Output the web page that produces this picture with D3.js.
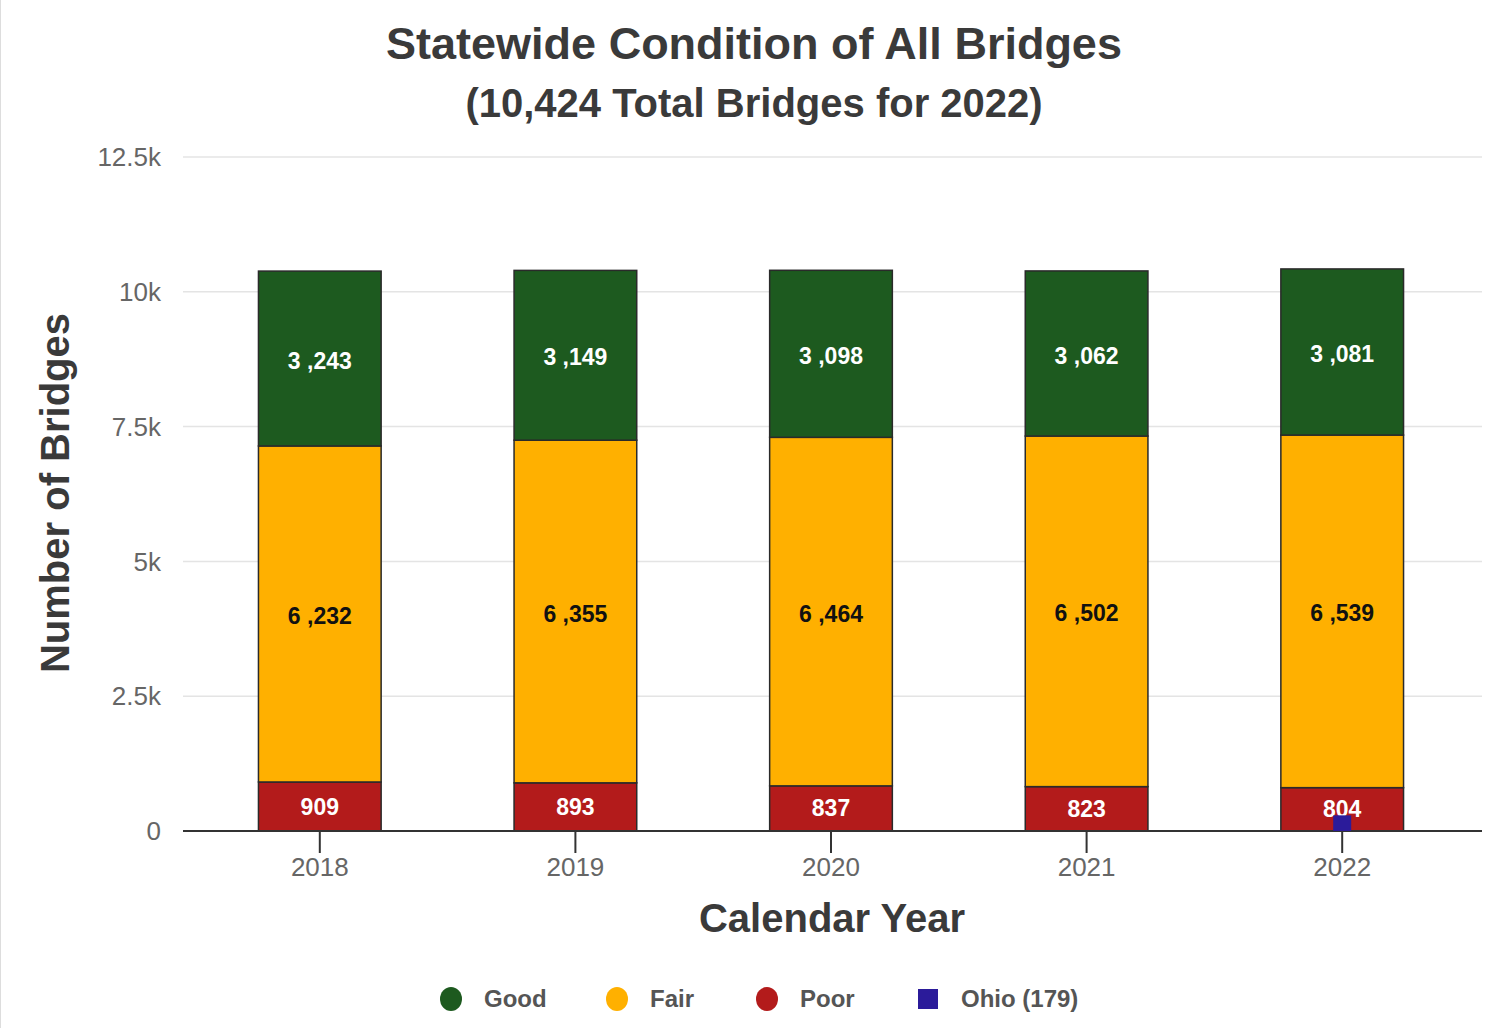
<!DOCTYPE html>
<html><head><meta charset="utf-8">
<script src="https://cdn.jsdelivr.net/npm/d3@7"></script>
<style>
body{margin:0;background:#fff;}
svg{display:block;font-family:"Liberation Sans",Arial,sans-serif;}
</style></head>
<body>
<svg id="c" width="1509" height="1028"></svg>
<script>
const years = ["2018","2019","2020","2021","2022"];
const poor = [909, 893, 837, 823, 804];
const fair = [6232, 6355, 6464, 6502, 6539];
const good = [3243, 3149, 3098, 3062, 3081];
const goodLabels = ["3 ,243","3 ,149","3 ,098","3 ,062","3 ,081"];
const fairLabels = ["6 ,232","6 ,355","6 ,464","6 ,502","6 ,539"];
const poorLabels = ["909","893","837","823","804"];
const ohioYear = "2022";
const ohioValue = 179;
const yTicks = [0, 2500, 5000, 7500, 10000, 12500];
const yTickLabels = ["0","2.5k","5k","7.5k","10k","12.5k"];
const seriesNames = ["Good","Fair","Poor","Ohio (179)"];
const colors = {Good:"#1d5a1f", Fair:"#ffb000", Poor:"#b31b1b", Ohio:"#2b1b9a"};

const svg = d3.select("#c");
svg.append("rect").attr("x",0).attr("y",0).attr("width",1).attr("height",1028).attr("fill","#ddd");

const x = d3.scaleBand().domain(years).range([192,1470]).paddingInner(0.52).paddingOuter(0.26);
const y = d3.scaleLinear().domain([0,12500]).range([831,157]);
const plotL = 183, plotR = 1482;

// gridlines
svg.append("g").selectAll("line").data(yTicks.filter(d=>d>0)).join("line")
  .attr("x1",plotL).attr("x2",plotR).attr("y1",d=>y(d)).attr("y2",d=>y(d))
  .attr("stroke","#e4e4e4").attr("stroke-width",1.5);

// y labels
svg.append("g").selectAll("text").data(yTicks).join("text")
  .attr("x",161).attr("y",d=>y(d)).attr("dy","0.35em").attr("text-anchor","end")
  .attr("font-size",26).attr("fill","#666").text((d,i)=>yTickLabels[i]);

// stacked data
const rows = years.map((yr,i)=>({year:yr, Poor:poor[i], Fair:fair[i], Good:good[i]}));
const stack = d3.stack().keys(["Poor","Fair","Good"])(rows);
const labelsByKey = {Poor:poorLabels, Fair:fairLabels, Good:goodLabels};
const labelColor = {Poor:"#fff", Fair:"#111", Good:"#fff"};

stack.forEach(layer=>{
  const g = svg.append("g");
  g.selectAll("rect").data(layer).join("rect")
    .attr("x",d=>x(d.data.year)).attr("width",x.bandwidth())
    .attr("y",d=>y(d[1])).attr("height",d=>y(d[0])-y(d[1]))
    .attr("fill",colors[layer.key]).attr("stroke","#2a2a2a").attr("stroke-width",1.5);
});
stack.forEach(layer=>{
  svg.append("g").selectAll("text").data(layer).join("text")
    .attr("x",d=>x(d.data.year)+x.bandwidth()/2)
    .attr("y",d=>(y(d[0])+y(d[1]))/2 + (layer.key==="Poor"? 0 : 2))
    .attr("dy","0.35em").attr("text-anchor","middle")
    .attr("font-size",23).attr("font-weight","bold")
    .attr("fill",labelColor[layer.key])
    .text((d,i)=>labelsByKey[layer.key][i]);
});

// axis line and ticks
svg.append("line").attr("x1",plotL).attr("x2",plotR).attr("y1",y(0)).attr("y2",y(0))
  .attr("stroke","#333").attr("stroke-width",2);
svg.append("g").selectAll("line").data(years).join("line")
  .attr("x1",d=>x(d)+x.bandwidth()/2).attr("x2",d=>x(d)+x.bandwidth()/2)
  .attr("y1",y(0)).attr("y2",y(0)+22).attr("stroke","#333").attr("stroke-width",2);

// Ohio marker
const ohioX = x(ohioYear)+x.bandwidth()/2;
svg.append("rect").attr("x",ohioX-9).attr("y",y(ohioValue)-6).attr("width",18).attr("height",y(0)-y(ohioValue)+6)
  .attr("fill",colors.Ohio);

// x labels
svg.append("g").selectAll("text").data(years).join("text")
  .attr("x",d=>x(d)+x.bandwidth()/2).attr("y",867).attr("dy","0.35em")
  .attr("text-anchor","middle").attr("font-size",26).attr("fill","#666").text(d=>d);

// titles
svg.append("text").attr("x",754).attr("y",43).attr("dy","0.35em").attr("text-anchor","middle")
  .attr("font-size",45).attr("font-weight","bold").attr("fill","#3a3a3a").text("Statewide Condition of All Bridges");
svg.append("text").attr("x",754).attr("y",103).attr("dy","0.35em").attr("text-anchor","middle")
  .attr("font-size",40).attr("font-weight","bold").attr("fill","#3a3a3a").text("(10,424 Total Bridges for 2022)");
svg.append("text").attr("x",832).attr("y",918).attr("dy","0.35em").attr("text-anchor","middle")
  .attr("font-size",40).attr("font-weight","bold").attr("fill","#3a3a3a").text("Calendar Year");
svg.append("text").attr("transform","translate(55,493) rotate(-90)").attr("dy","0.35em").attr("text-anchor","middle")
  .attr("font-size",40).attr("font-weight","bold").attr("fill","#3a3a3a").text("Number of Bridges");

// legend
const legendX = [451, 617, 767, 928];
const legendColors = [colors.Good, colors.Fair, colors.Poor, colors.Ohio];
const lg = svg.append("g");
seriesNames.forEach((n,i)=>{
  if(i<3){
    lg.append("ellipse").attr("cx",legendX[i]).attr("cy",999).attr("rx",11).attr("ry",12).attr("fill",legendColors[i]);
  } else {
    lg.append("rect").attr("x",legendX[i]-10).attr("y",989).attr("width",20).attr("height",20).attr("fill",legendColors[i]);
  }
  lg.append("text").attr("x",legendX[i]+33).attr("y",999).attr("dy","0.35em")
    .attr("font-size",24).attr("font-weight","bold").attr("fill","#555").text(n);
});
</script>
</body></html>
